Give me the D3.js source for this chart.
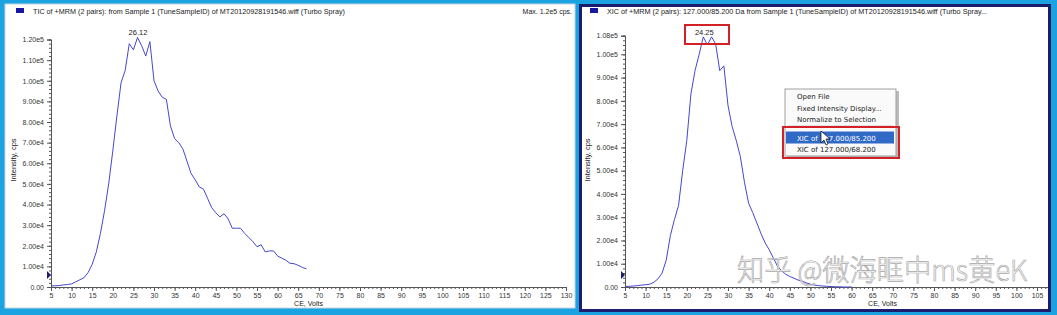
<!DOCTYPE html>
<html lang="en">
<head>
<meta charset="UTF-8">
<title>TIC / XIC</title>
<script src="https://d3js.org/d3.v7.min.js"></script>
<style>
    body{margin:0;background:#1ba3e1;}
    text{font-family:"Liberation Sans",Arial,sans-serif;fill:#222;}
    .tick text{font-size:7px;fill:#333;}
    .domain,.tick line{stroke:#555;}
    .trace{fill:none;stroke:#4646cf;stroke-width:1;}
    .menu text{font-family:"DejaVu Sans",sans-serif;font-size:7px;}
</style>
</head>
<body>
<script>
    // CE, Volts (1 V steps) and intensity in cps
    var ceTic = d3.range(5, 68);
    var tic = [500,600,700,1000,1200,1500,2500,3500,4500,7000,
               11000,17000,26000,37000,50000,66000,83000,99000,105000,118000,
               115000,121000,117000,112000,119000,100000,95000,92000,91000,78000,
               72000,70000,67000,61000,55000,52000,48500,47500,43000,38500,
               36000,34000,35500,33000,28500,28500,28500,26000,24000,22000,
               19500,20500,17000,17500,17500,15000,14000,13000,11500,11300,
               10500,9500,8800];
    var ceXic = d3.range(5, 61);
    var xic = [200,300,400,600,800,1000,1200,2000,3500,6000,
               11500,22000,29000,35000,50000,63000,83000,93000,100000,107500,
               104000,107500,104500,93000,95000,78000,69000,63000,56000,45000,
               36000,32000,27500,23000,19000,16000,12500,9000,7000,5500,
               4500,3800,3000,2500,1800,1200,800,600,400,300,
               200,100,100,0,0,0];
    var xTicks = d3.range(5, 131, 5);
    var ticTicks = d3.range(0, 120001, 10000);
    var xicTicks = d3.range(0, 100001, 10000).concat([108000]);
    var menuItems = ["Open File", "Fixed Intensity Display...", "Normalize to Selection"];
    var menuXic = ["XIC of 127.000/85.200", "XIC of 127.000/68.200"];

    var fmt = function(d){ return d === 0 ? "0.00" : d3.format(".2e")(d).replace("+", ""); };

    var svg = d3.select("body").append("svg").attr("width", 1057).attr("height", 315)
                .style("display", "block");
    svg.append("rect").attr("width", 1057).attr("height", 315).attr("fill", "#1ba3e1");

    function panel(o){
        var g = svg.append("g");
        var x = d3.scaleLinear().domain([5, 130]).range([o.x0, o.x0 + 125 * 4.12]);
        var y = d3.scaleLinear().domain([0, o.ymax]).range([287, o.ytop]);
        var xLab = xTicks.filter(function(v){ return x(v) < o.xEdge; });

        g.append("g").attr("transform", "translate(0,287)")
         .call(d3.axisBottom(x).tickValues(d3.range(5, 131)).tickSize(2).tickFormat(""));
        g.append("g").attr("transform", "translate(0,287)")
         .call(d3.axisBottom(x).tickValues(xLab).tickSize(4).tickFormat(d3.format("d")))
         .selectAll("text").attr("dy", "0.5em");
        g.append("g").attr("transform", "translate(" + o.x0 + ",0)")
         .call(d3.axisLeft(y).tickValues(d3.range(0, o.ymax + 1, 2000)).tickSize(2).tickFormat(""));
        g.append("g").attr("transform", "translate(" + o.x0 + ",0)")
         .call(d3.axisLeft(y).tickValues(o.ticks).tickSize(4).tickFormat(fmt));
        g.selectAll(".domain").attr("stroke-width", 1);

        g.append("path").datum(d3.zip(o.ce, o.vals)).attr("class", "trace")
         .attr("d", d3.line().x(function(d){return x(d[0]);}).y(function(d){return y(d[1]);}));

        // small marker on the y axis
        g.append("path").attr("fill", "#1d1d70")
         .attr("d", "M" + (o.x0 - 4) + "," + 271 + " l4,4 l-4,4 z");

        g.append("text").attr("x", x(o.peak)).attr("y", 35).attr("text-anchor", "middle")
         .style("font-size", "7.5px").text(o.peakLabel);

        g.append("text").attr("x", (x(5) + x(130)) / 2).attr("y", 306).attr("text-anchor", "middle")
         .style("font-size", "7px").text("CE, Volts");
        g.append("text").attr("transform", "translate(" + (o.x0 - 35) + ",160) rotate(-90)")
         .attr("text-anchor", "middle").style("font-size", "7.5px").text("Intensity, cps");

        g.append("rect").attr("x", o.x0 - 35).attr("y", 8).attr("width", 8).attr("height", 5)
         .attr("fill", "#1616a0");
        g.append("text").attr("x", o.x0 - 18).attr("y", 14).style("font-size", "7px")
         .attr("textLength", o.titleW).attr("lengthAdjust", "spacingAndGlyphs").text(o.title);
        return {g: g, x: x, y: y};
    }

    // left panel
    svg.append("rect").attr("x", 5).attr("y", 4).attr("width", 570).attr("height", 304)
       .attr("fill", "#fff").attr("stroke", "#c8d6de");
    var left = panel({x0: 51, xEdge: 575, ymax: 120000, ytop: 39.5, ticks: ticTicks, ce: ceTic, vals: tic,
        peak: 26.12, peakLabel: "26.12", titleW: 312,
        title: "TIC of +MRM (2 pairs): from Sample 1 (TuneSampleID) of MT20120928191546.wiff (Turbo Spray)"});
    svg.append("text").attr("x", 572).attr("y", 14).attr("text-anchor", "end")
       .style("font-size", "7px").text("Max. 1.2e5 cps.");

    // right panel
    svg.append("rect").attr("x", 579).attr("y", 4).attr("width", 472).attr("height", 308).attr("fill", "#1d1d6e");
    svg.append("rect").attr("x", 582).attr("y", 7).attr("width", 466).attr("height", 302).attr("fill", "#fff");
    svg.append("clipPath").attr("id", "rclip").append("rect")
       .attr("x", 582).attr("y", 7).attr("width", 466).attr("height", 302);
    var right = panel({x0: 625, xEdge: 1045, ymax: 108000, ytop: 35.7, ticks: xicTicks, ce: ceXic, vals: xic,
        peak: 24.25, peakLabel: "24.25", titleW: 380,
        title: "XIC of +MRM (2 pairs): 127.000/85.200 Da  from Sample 1 (TuneSampleID) of MT20120928191546.wiff (Turbo Spray..."});
    right.g.attr("clip-path", "url(#rclip)");
    right.g.append("rect").attr("x", 685).attr("y", 25).attr("width", 44).attr("height", 19)
       .attr("fill", "none").attr("stroke", "#d42027").attr("stroke-width", 2);

    // context menu
    var menu = svg.append("g").attr("class", "menu");
    menu.append("rect").attr("x", 787).attr("y", 91).attr("width", 112).attr("height", 67).attr("fill", "#bbb");
    menu.append("rect").attr("x", 785).attr("y", 89).attr("width", 111).attr("height", 67)
        .attr("fill", "#fafafa").attr("stroke", "#a0a0a0");
    menu.selectAll(".it").data(menuItems).enter().append("text")
        .attr("x", 797).attr("y", function(d, i){ return 99 + i * 11.5; }).text(function(d){ return d; });
    menu.append("line").attr("x1", 788).attr("x2", 893).attr("y1", 126).attr("y2", 126).attr("stroke", "#ccc");
    menu.append("rect").attr("x", 786).attr("y", 131.5).attr("width", 108).attr("height", 12).attr("fill", "#3169c6");
    menu.selectAll(".xi").data(menuXic).enter().append("text")
        .attr("x", 797).attr("y", function(d, i){ return 140.5 + i * 11.5; })
        .style("fill", function(d, i){ return i === 0 ? "#fff" : "#222"; }).text(function(d){ return d; });
    menu.append("rect").attr("x", 783).attr("y", 127).attr("width", 116).attr("height", 31)
        .attr("fill", "none").attr("stroke", "#d42027").attr("stroke-width", 2);
    menu.append("path").attr("d", "M821,131 l0,12 l3,-3 l2,5 l2,-1 l-2,-5 l4,0 z")
        .attr("fill", "#fff").attr("stroke", "#000").attr("stroke-width", 0.7);

    // watermark
    svg.append("text").attr("x", 737).attr("y", 281).style("font-size", "29px")
       .style("font-family", "'Noto Sans CJK SC',sans-serif").style("font-weight", 300)
       .style("fill", "rgba(255,255,255,0.85)").attr("stroke", "#a8a8a8").attr("stroke-width", 0.7)
       .attr("textLength", 290).attr("lengthAdjust", "spacingAndGlyphs")
       .text("知乎 @微海眶中ms黄eK");
</script>
</body>
</html>
